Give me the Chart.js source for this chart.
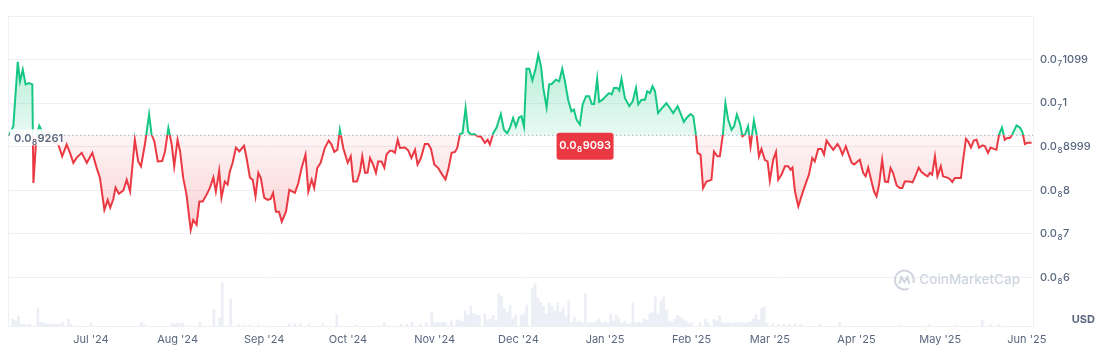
<!DOCTYPE html>
<html>
<head>
<meta charset="utf-8">
<script src="https://cdn.jsdelivr.net/npm/chart.js@4.4.1/dist/chart.umd.min.js"></script>
<style>
  html, body { margin: 0; padding: 0; background: #fff; }
  #wrap { width: 1100px; height: 363px; position: relative; }
</style>
</head>
<body>
<div id="wrap"><canvas id="chart"></canvas></div>
<script>
// price in nano-USD (x1e-9), x = days counted from 1 Jul 2024
const startDate = '2024-07-01';

const priceDays = [
  -29.3, -27.8, -26.2, -25.4, -24.4, -23.4, -22.2, -21.0, -20.6, -19.5,
  -18.5, -17.4, -15.7, -14.0, -11.7, -10.3, -8.7, -7.5, -6.3, -5.1,
  -3.3, -1.5, 0.5, 2.0, 3.2, 4.8, 6.0, 6.9, 8.0, 8.8,
  10.0, 11.6, 12.8, 14.0, 15.7, 16.9, 17.9, 19.3, 20.8, 21.7,
  22.7, 23.9, 25.5, 26.5, 27.7, 28.9, 29.8, 31.0, 31.9, 33.0,
  34.2, 35.7, 36.6, 37.8, 38.8, 40.0, 41.4, 42.6, 43.8, 44.7,
  45.9, 46.7, 47.9, 48.9, 49.7, 50.7, 51.9, 53.1, 54.8, 55.7,
  56.9, 57.9, 58.9, 59.9, 60.8, 62.0, 63.2, 64.3, 65.2, 66.2,
  67.3, 68.3, 69.8, 71.0, 73.0, 74.2, 75.4, 76.8, 77.8, 79.0,
  79.9, 81.0, 82.2, 83.7, 85.1, 86.1, 87.1, 88.2, 89.1, 90.3,
  91.9, 93.0, 93.9, 95.2, 96.3, 97.1, 98.1, 99.0, 99.9, 101.0,
  102.0, 102.8, 104.0, 105.0, 105.8, 107.0, 107.8, 108.8, 109.8, 110.6,
  112.4, 113.6, 114.7, 116.0, 116.9, 118.1, 119.5, 120.7, 121.7, 122.9,
  124.3, 125.7, 126.9, 127.9, 129.1, 130.3, 131.1, 132.1, 133.0, 134.1,
  135.0, 136.0, 137.2, 138.4, 139.6, 141.0, 142.0, 142.8, 144.0, 145.2,
  146.7, 147.8, 149.0, 150.0, 151.1, 152.1, 153.2, 154.1, 155.0, 155.9,
  156.9, 158.0, 159.1, 160.1, 161.1, 161.9, 163.1, 164.0, 164.9, 166.4,
  167.6, 168.7, 169.6, 170.8, 172.0, 172.9, 173.8, 175.0, 176.0, 177.2,
  178.3, 179.3, 180.1, 181.2, 181.9, 183.1, 184.3, 185.4, 186.4, 187.2,
  188.4, 189.1, 189.9, 191.1, 192.7, 193.9, 195.1, 195.9, 197.1, 198.3,
  199.1, 200.1, 201.0, 201.9, 203.0, 204.6, 206.0, 207.2, 208.4, 210.0,
  211.0, 212.2, 213.2, 214.6, 215.6, 216.5, 217.1, 218.2, 219.1, 220.3,
  222.1, 223.0, 224.2, 225.1, 226.2, 227.1, 228.1, 229.3, 230.2, 231.2,
  232.3, 233.2, 234.1, 235.2, 236.1, 237.3, 238.2, 239.1, 240.0, 241.2,
  242.2, 243.0, 244.2, 245.2, 246.0, 247.2, 248.4, 249.6, 250.4, 251.1,
  252.0, 253.2, 254.3, 255.5, 257.0, 258.2, 259.1, 260.3, 261.5, 262.4,
  263.3, 264.5, 265.7, 267.2, 268.1, 269.0, 270.2, 271.0, 272.3, 273.2,
  274.4, 275.2, 276.4, 277.3, 278.2, 279.4, 280.3, 281.2, 282.1, 283.2,
  284.2, 285.3, 286.2, 287.1, 288.4, 289.5, 290.4, 291.3, 292.9, 294.1,
  295.3, 296.3, 297.3, 298.5, 299.5, 300.3, 301.1, 302.1, 303.0, 304.2,
  305.0, 306.5, 307.4, 308.3, 309.2, 310.4, 311.4, 312.2, 313.2, 314.0,
  315.0, 316.0, 317.0, 317.9, 319.1, 320.0, 321.1, 322.0, 323.2, 324.1,
  325.1, 326.1, 327.1, 328.0, 328.9, 329.8, 331.3, 332.5, 333.4, 334.3,
  335.2, 336.7
];

const prices = [
  9.261, 9.47, 10.95, 10.50, 10.77, 10.43, 10.46, 10.43, 8.17, 9.26,
  9.48, 9.34, 9.21, 9.11, 9.05, 8.78, 9.05, 8.86, 8.63, 8.75,
  8.86, 8.63, 8.86, 8.52, 8.29, 7.55, 7.78, 7.60, 7.80, 8.06,
  7.92, 8.00, 8.24, 7.97, 9.16, 8.66, 8.55, 9.05, 9.74, 9.28,
  9.12, 8.66, 8.67, 8.89, 9.43, 9.05, 8.55, 9.16, 8.89, 8.29,
  7.90, 7.09, 7.32, 7.21, 7.74, 7.74, 7.90, 8.06, 8.29, 7.97,
  8.45, 7.83, 8.20, 8.13, 8.43, 8.63, 8.98, 8.89, 9.02, 8.74,
  8.29, 8.24, 7.86, 8.40, 8.28, 7.83, 7.78, 7.80, 7.94, 7.51,
  7.51, 7.28, 7.51, 8.01, 7.94, 8.16, 8.51, 8.82, 7.97, 8.24,
  8.05, 8.51, 8.63, 8.97, 9.14, 9.05, 8.88, 8.93, 9.39, 8.97,
  8.63, 8.78, 8.20, 8.20, 8.43, 8.78, 8.40, 8.40, 8.74, 8.59,
  8.40, 8.66, 8.66, 8.52, 8.82, 8.91, 8.91, 8.86, 9.16, 8.97,
  8.98, 8.91, 8.74, 8.93, 8.59, 8.74, 9.06, 9.06, 8.95, 8.59,
  8.51, 8.36, 8.25, 8.48, 8.86, 8.88, 8.97, 9.29, 9.31, 9.89,
  9.35, 9.28, 9.29, 9.24, 9.23, 9.09, 9.16, 9.05, 9.31, 9.44,
  9.75, 9.39, 9.31, 9.44, 9.66, 9.46, 9.67, 9.70, 9.46, 10.79,
  10.79, 10.52, 10.77, 11.11, 10.85, 10.35, 9.90, 10.43, 10.44, 10.54,
  10.50, 10.79, 10.52, 10.08, 9.81, 9.85, 9.62, 9.51, 9.97, 10.16,
  10.16, 9.98, 9.98, 10.56, 10.03, 10.08, 10.16, 10.23, 10.20, 10.35,
  10.35, 10.29, 10.56, 10.12, 9.93, 10.04, 10.35, 9.97, 10.08, 10.08,
  10.27, 10.23, 10.39, 10.27, 9.77, 9.90, 10.00, 9.89, 9.77, 9.93,
  9.77, 9.57, 9.66, 9.75, 9.70, 9.29, 8.86, 8.82, 8.05, 8.20,
  8.24, 8.89, 8.78, 8.78, 9.28, 10.00, 9.62, 9.39, 9.47, 9.74,
  9.54, 9.24, 9.28, 9.47, 9.01, 9.60, 9.31, 8.78, 8.95, 8.70,
  8.66, 8.22, 8.70, 8.88, 8.24, 8.36, 8.55, 8.55, 8.47, 8.52,
  7.97, 7.63, 7.86, 8.09, 8.36, 8.74, 8.66, 8.95, 8.95, 8.82,
  9.14, 9.03, 8.93, 9.06, 8.97, 8.82, 9.01, 8.86, 8.63, 8.59,
  8.66, 8.70, 8.40, 8.32, 8.52, 8.20, 7.97, 7.86, 8.13, 8.70,
  8.20, 8.19, 8.51, 8.40, 8.11, 8.05, 8.05, 8.20, 8.20, 8.18,
  8.36, 8.52, 8.42, 8.36, 8.32, 8.40, 8.36, 8.78, 8.32, 8.55,
  8.32, 8.29, 8.26, 8.19, 8.28, 8.28, 8.28, 8.70, 9.18, 9.12,
  8.98, 9.14, 9.16, 8.98, 9.03, 9.01, 8.86, 8.98, 8.95, 8.93,
  9.29, 9.44, 9.16, 9.20, 9.20, 9.28, 9.49, 9.44, 9.34, 9.06,
  9.09, 9.093
];

// daily volume (relative units), days with no visible bar left out
const volDays = [
  -28, -27, -26, -25, -24, -23, -22, -19, -18, -17,
  -16, -15, -14, -13, -12, -11, -10, -8, -7, 0,
  18, 19, 29, 30, 31, 32, 33, 39, 44, 46,
  47, 50, 53, 55, 57, 60, 71, 73, 75, 78,
  83, 88, 95, 105, 111, 113, 115, 118, 120, 122,
  123, 124, 125, 126, 127, 129, 131, 132, 133, 134,
  135, 136, 137, 138, 139, 141, 142, 143, 144, 145,
  146, 147, 148, 149, 150, 151, 152, 154, 155, 156,
  158, 159, 160, 161, 162, 163, 164, 165, 166, 167,
  168, 169, 170, 171, 172, 173, 174, 175, 176, 177,
  178, 179, 180, 181, 182, 183, 184, 185, 186, 187,
  188, 189, 190, 191, 192, 193, 194, 195, 196, 197,
  198, 199, 200, 201, 202, 203, 204, 205, 206, 207,
  208, 209, 210, 211, 212, 213, 214, 215, 218, 220,
  221, 223, 224, 225, 226, 227, 228, 229, 230, 231,
  232, 233, 234, 235, 236, 237, 238, 239, 240, 241,
  242, 244, 246, 248, 250, 252, 254, 261, 268, 290,
  300, 310, 319, 322, 325
];
const volumes = [
  70, 50, 100, 20, 15, 10, 15, 180, 40, 30,
  20, 15, 15, 20, 15, 20, 35, 70, 15, 25,
  40, 15, 25, 20, 30, 20, 25, 35, 167, 80,
  430, 266, 10, 10, 10, 10, 20, 20, 20, 20,
  20, 110, 10, 30, 15, 15, 40, 20, 35, 130,
  30, 35, 30, 40, 35, 50, 60, 60, 45, 150,
  106, 195, 124, 110, 106, 124, 60, 70, 106, 50,
  320, 290, 177, 140, 210, 70, 110, 106, 124, 210,
  380, 420, 280, 240, 195, 120, 230, 195, 150, 230,
  140, 180, 90, 250, 35, 90, 40, 50, 30, 320,
  30, 35, 30, 50, 70, 30, 40, 30, 124, 50,
  106, 70, 30, 50, 20, 30, 230, 30, 40, 30,
  70, 60, 124, 140, 290, 120, 250, 290, 160, 50,
  40, 70, 106, 90, 70, 50, 25, 30, 30, 70,
  30, 70, 50, 106, 30, 25, 40, 30, 25, 35,
  30, 35, 25, 30, 40, 70, 110, 60, 177, 195,
  30, 20, 15, 20, 15, 20, 15, 20, 40, 10,
  10, 10, 60, 15, 15
];

const monthStarts = ['2024-07-01', '2024-08-01', '2024-09-01', '2024-10-01', '2024-11-01', '2024-12-01',
                     '2025-01-01', '2025-02-01', '2025-03-01', '2025-04-01', '2025-05-01', '2025-06-01'];
const monthLabels = ["Jul '24", "Aug '24", "Sep '24", "Oct '24", "Nov '24", "Dec '24",
                     "Jan '25", "Feb '25", "Mar '25", "Apr '25", "May '25", "Jun '25"];

const yTicks = [6, 7, 8, 9, 10, 11, 12];
const yTickLabels = ['0.0₈6', '0.0₈7', '0.0₈8', '0.0₈8999', '0.0₇1', '0.0₇1099', ''];

const baseline = prices[0];
const lastPrice = prices[prices.length - 1];

const GREEN = '#16c784', RED = '#ea3943', GREY = '#58667e', LINE = '#eef0f3';
const FONT = 'Inter, "Noto Sans", sans-serif';
const SUBS = '₀₁₂₃₄₅₆₇₈₉';

function dayOf(s) { return (Date.parse(s) - Date.parse(startDate)) / 86400000; }
const monthDays = monthStarts.map(dayOf);
const xMin = -29.7, xMax = 337.2;

// CMC style text: 0.0 + subscript zero count + significant digits
function cmcLabel(v) {
  if (v >= 10) return '0.0' + SUBS[7] + Math.round(v * 100);
  return '0.0' + SUBS[8] + Math.round(v * 1000);
}
function drawSub(ctx, text, x, y, size, weight, color, align) {
  let head = text, sub = '', tail = '';
  for (let i = 0; i < text.length; i++) {
    const k = SUBS.indexOf(text[i]);
    if (k >= 0) { head = text.slice(0, i); sub = String(k); tail = text.slice(i + 1); break; }
  }
  const big = weight + ' ' + size + 'px ' + FONT;
  const small = weight + ' ' + Math.round(size * 0.75) + 'px ' + FONT;
  ctx.font = big; const w0 = ctx.measureText(head).width, w2 = ctx.measureText(tail).width;
  ctx.font = small; const w1 = sub ? ctx.measureText(sub).width + 1 : 0;
  const sx = align === 'center' ? x - (w0 + w1 + w2) / 2 : x;
  ctx.fillStyle = color; ctx.textBaseline = 'middle'; ctx.textAlign = 'left';
  ctx.font = big; ctx.fillText(head, sx, y);
  if (sub) { ctx.font = small; ctx.fillText(sub, sx + w0 + 0.5, y + 4); }
  ctx.font = big; ctx.fillText(tail, sx + w0 + w1, y);
}

function lineGradient(chart) {
  const { ctx, chartArea, scales } = chart;
  if (!chartArea) return GREEN;
  let t = (scales.y.getPixelForValue(baseline) - chartArea.top) / (chartArea.bottom - chartArea.top);
  t = Math.min(1, Math.max(0, t));
  const g = ctx.createLinearGradient(0, chartArea.top, 0, chartArea.bottom);
  g.addColorStop(0, GREEN); g.addColorStop(t, GREEN);
  g.addColorStop(t, RED); g.addColorStop(1, RED);
  return g;
}
function fillGradient(chart, up) {
  const { ctx, chartArea, scales } = chart;
  if (!chartArea) return 'transparent';
  const yb = scales.y.getPixelForValue(baseline);
  let g;
  if (up) {
    g = ctx.createLinearGradient(0, scales.y.getPixelForValue(11.2), 0, yb);
    g.addColorStop(0, 'rgba(22,199,132,0.32)');
    g.addColorStop(1, 'rgba(22,199,132,0.10)');
  } else {
    g = ctx.createLinearGradient(0, yb, 0, scales.y.getPixelForValue(7));
    g.addColorStop(0, 'rgba(234,57,67,0.05)');
    g.addColorStop(1, 'rgba(234,57,67,0.24)');
  }
  return g;
}

const decor = {
  id: 'decor',
  beforeDraw(chart) {
    const { ctx, width, height } = chart;
    ctx.save(); ctx.fillStyle = '#fff'; ctx.fillRect(0, 0, width, height); ctx.restore();
  },
  beforeDatasetsDraw(chart) {
    const { ctx, chartArea: a } = chart;
    ctx.save();
    // left frame line
    ctx.strokeStyle = LINE; ctx.lineWidth = 1;
    ctx.beginPath(); ctx.moveTo(a.left + 0.5, a.top); ctx.lineTo(a.left + 0.5, a.bottom); ctx.stroke();
    // watermark
    const wx = a.right - 13, wy = a.bottom - 46;
    ctx.font = '500 13.5px ' + FONT; ctx.fillStyle = '#cfd5df';
    ctx.textAlign = 'right'; ctx.textBaseline = 'middle';
    ctx.fillText('CoinMarketCap', wx, wy);
    const tw = ctx.measureText('CoinMarketCap').width;
    const cx = wx - tw - 15;
    ctx.strokeStyle = '#cfd5df'; ctx.lineWidth = 2;
    ctx.beginPath(); ctx.arc(cx, wy, 9.5, 0.35 * Math.PI, 2.1 * Math.PI); ctx.stroke();
    ctx.beginPath();
    ctx.moveTo(cx - 5, wy + 4); ctx.lineTo(cx - 3, wy - 3); ctx.lineTo(cx, wy + 2);
    ctx.lineTo(cx + 3, wy - 3); ctx.lineTo(cx + 5, wy + 4);
    ctx.stroke();
    ctx.restore();
  },
  afterDraw(chart) {
    const { ctx, chartArea: a, scales } = chart;
    const yb = scales.y.getPixelForValue(baseline);
    ctx.save();
    // y tick labels with subscript zero count
    yTicks.forEach((v, i) => {
      drawSub(ctx, yTickLabels[i], a.right + 7, scales.y.getPixelForValue(v), 11, 500, GREY, 'left');
    });
    // baseline (opening price) label
    ctx.fillStyle = 'rgba(255,255,255,0.92)';
    ctx.fillRect(a.left + 2, yb - 6, 52, 16);
    drawSub(ctx, cmcLabel(baseline), a.left + 6, yb + 3, 11, 600, GREY, 'left');
    // latest price badge
    const bx = a.left + 0.563 * (a.right - a.left), bw = 57, bh = 27, by = yb - 2.5;
    ctx.fillStyle = RED;
    ctx.beginPath();
    ctx.roundRect ? ctx.roundRect(bx - bw / 2, by, bw, bh, 3) : ctx.rect(bx - bw / 2, by, bw, bh);
    ctx.fill();
    drawSub(ctx, cmcLabel(lastPrice), bx, by + 12.5, 11, 600, '#fff', 'center');
    // currency label
    ctx.font = 'bold 11px ' + FONT; ctx.fillStyle = GREY;
    ctx.textAlign = 'right'; ctx.textBaseline = 'middle';
    ctx.fillText('USD', 1095, a.bottom - 6);
    ctx.restore();
  }
};

new Chart(document.getElementById('chart'), {
  type: 'line',
  data: {
    datasets: [
      {
        label: 'Open',
        data: [{ x: xMin, y: baseline }, { x: xMax, y: baseline }],
        borderColor: '#a9b1c1',
        borderWidth: 1,
        borderDash: [1.5, 2.5],
        pointRadius: 0,
        fill: false,
        order: 0
      },
      {
        label: 'Price',
        data: priceDays.map((d, i) => ({ x: d, y: prices[i] })),
        borderColor: c => lineGradient(c.chart),
        borderWidth: 2,
        pointRadius: 0,
        tension: 0,
        fill: c => ({ target: { value: baseline }, above: fillGradient(c.chart, true), below: fillGradient(c.chart, false) }),
        order: 1
      },
      {
        type: 'bar',
        label: 'Volume',
        yAxisID: 'y1',
        data: volDays.map((d, i) => ({ x: d, y: volumes[i] })),
        backgroundColor: 'rgba(207,214,228,0.42)',
        barThickness: 2,
        order: 2
      }
    ]
  },
  options: {
    responsive: true,
    maintainAspectRatio: false,
    animation: false,
    layout: { padding: { top: 16, left: 8, right: 0, bottom: 0 } },
    plugins: { legend: { display: false }, tooltip: { enabled: false } },
    scales: {
      x: {
        type: 'linear',
        min: xMin, max: xMax,
        offset: false,
        afterBuildTicks: s => { s.ticks = monthDays.map(v => ({ value: v })); },
        afterFit: s => { s.height = 37; },
        grid: { display: false, drawTicks: false },
        border: { display: true, color: LINE },
        ticks: {
          autoSkip: false, maxRotation: 0, padding: 7,
          color: GREY, font: { family: FONT, size: 11 },
          callback: v => monthLabels[monthDays.indexOf(v)]
        }
      },
      y: {
        position: 'right',
        min: 4.885, max: 12,
        afterBuildTicks: s => { s.ticks = yTicks.map(v => ({ value: v })); },
        afterFit: s => { s.width = 67; },
        grid: { color: LINE, drawTicks: false },
        border: { display: true, color: LINE },
        ticks: { display: false }
      },
      y1: {
        display: false,
        min: 0,
        max: Math.max(...volumes) * 7.2
      }
    }
  },
  plugins: [decor]
});
</script>
</body>
</html>
